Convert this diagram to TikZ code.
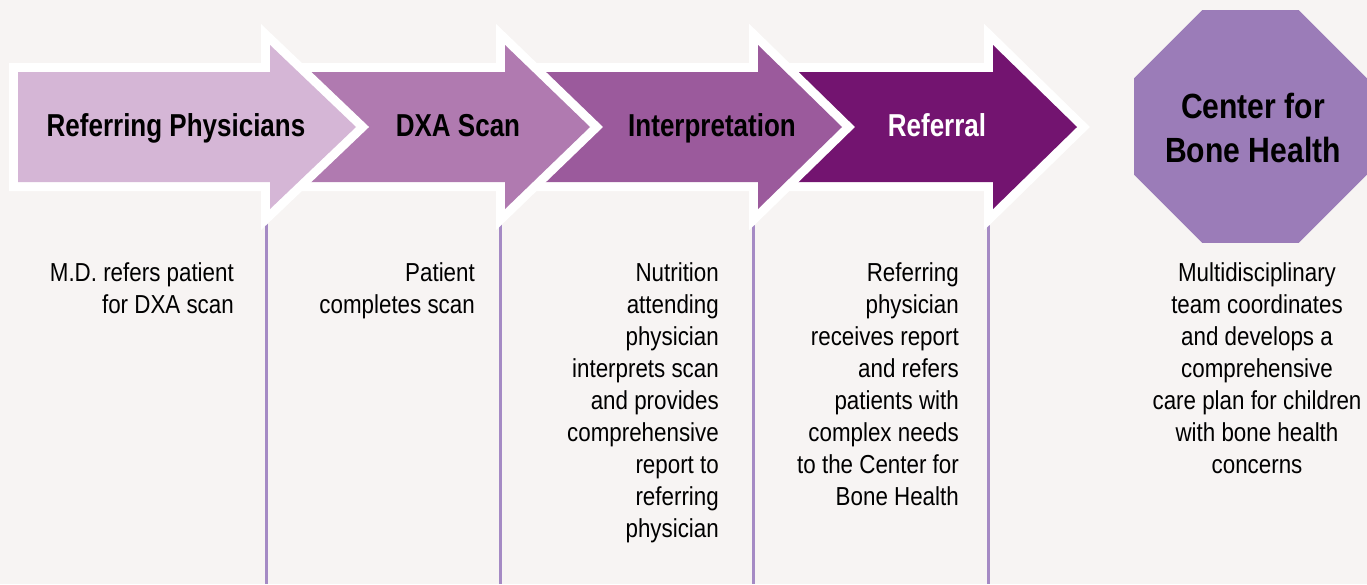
\documentclass[tikz,border=0pt]{standalone}
\usepackage{fontspec}
\setmainfont{Liberation Sans}[FakeStretch=0.86]
\newfontfamily\headfont{Liberation Sans}[FakeStretch=0.82]
\usepackage{tikz}
\usetikzlibrary{shapes.geometric}

\definecolor{paper}{HTML}{F7F4F3}
\definecolor{stepone}{HTML}{D5B6D6}
\definecolor{steptwo}{HTML}{B07AB0}
\definecolor{stepthree}{HTML}{9B5A9C}
\definecolor{stepfour}{HTML}{731470}
\definecolor{bonecenter}{HTML}{9B7CB8}
\definecolor{divline}{HTML}{A58AC4}

\tikzstyle{steplabel} = [font=\headfont\bfseries\fontsize{31.7}{38}\selectfont, anchor=base, inner sep=0pt]
\tikzstyle{stepnote} = [font=\fontsize{26}{32}\selectfont, align=right, anchor=north east, inner sep=0pt]
\tikzstyle{divider} = [draw=divline, line width=3pt]

% start x, head x, tip x, colour
\newcommand{\steparrow}[4]{%
  \filldraw[white, line width=18pt, line join=miter] (#1,72) -- (#2,72) -- (#2,45) -- (#3,127) -- (#2,209) -- (#2,182) -- (#1,182) -- cycle;
  \fill[#4] (#1,72) -- (#2,72) -- (#2,45) -- (#3,127) -- (#2,209) -- (#2,182) -- (#1,182) -- cycle;}

\begin{document}
\begin{tikzpicture}[x=1pt, y=-1pt]
        \fill[paper] (0,0) rectangle (1367,584);
        \useasboundingbox (0,0) rectangle (1367,584);

        % dividers
        \coordinate (topa) at (266,200);
        \coordinate (bota) at (266,584);
        \coordinate (topb) at (500,200);
        \coordinate (botb) at (500,584);
        \coordinate (topc) at (753,200);
        \coordinate (botc) at (753,584);
        \coordinate (topd) at (988,200);
        \coordinate (botd) at (988,584);
        \draw[divider] (topa) -- (bota);
        \draw[divider] (topb) -- (botb);
        \draw[divider] (topc) -- (botc);
        \draw[divider] (topd) -- (botd);

        % arrows, right to left
        \steparrow{790}{993}{1077}{stepfour}
        \steparrow{540}{758}{842}{stepthree}
        \steparrow{300}{505}{590}{steptwo}
        \steparrow{18}{270}{356}{stepone}

        \node[steplabel] at (176,136) (Referring) {Referring Physicians};
        \node[steplabel] at (458,136) (DXA) {DXA Scan};
        \node[steplabel] at (712,136) (Interpretation) {Interpretation};
        \node[steplabel, text=white] at (937,136) (Referral) {Referral};

        \node[regular polygon, regular polygon sides=8, minimum size=252pt, inner sep=0pt, fill=bonecenter] at (1250.5,126.5) (Center) {};
        \node[font=\bfseries\fontsize{35}{44}\selectfont, align=center, inner sep=0pt] at (1253,128) (CenterText) {Center for\\Bone Health};

        \node[stepnote] at (234,262) (NoteA) {M.D. refers patient\\for DXA scan};
        \node[stepnote] at (475,262) (NoteB) {Patient\\completes scan};
        \node[stepnote] at (719,262) (NoteC) {Nutrition\\attending\\physician\\interprets scan\\and provides\\comprehensive\\report to\\referring\\physician};
        \node[stepnote] at (959,262) (NoteD) {Referring\\physician\\receives report\\and refers\\patients with\\complex needs\\to the Center for\\Bone Health};
        \node[stepnote, align=center, anchor=north] at (1257,262) (NoteE) {Multidisciplinary\\team coordinates\\and develops a\\comprehensive\\care plan for children\\with bone health\\concerns};
    \end{tikzpicture}
\end{document}
